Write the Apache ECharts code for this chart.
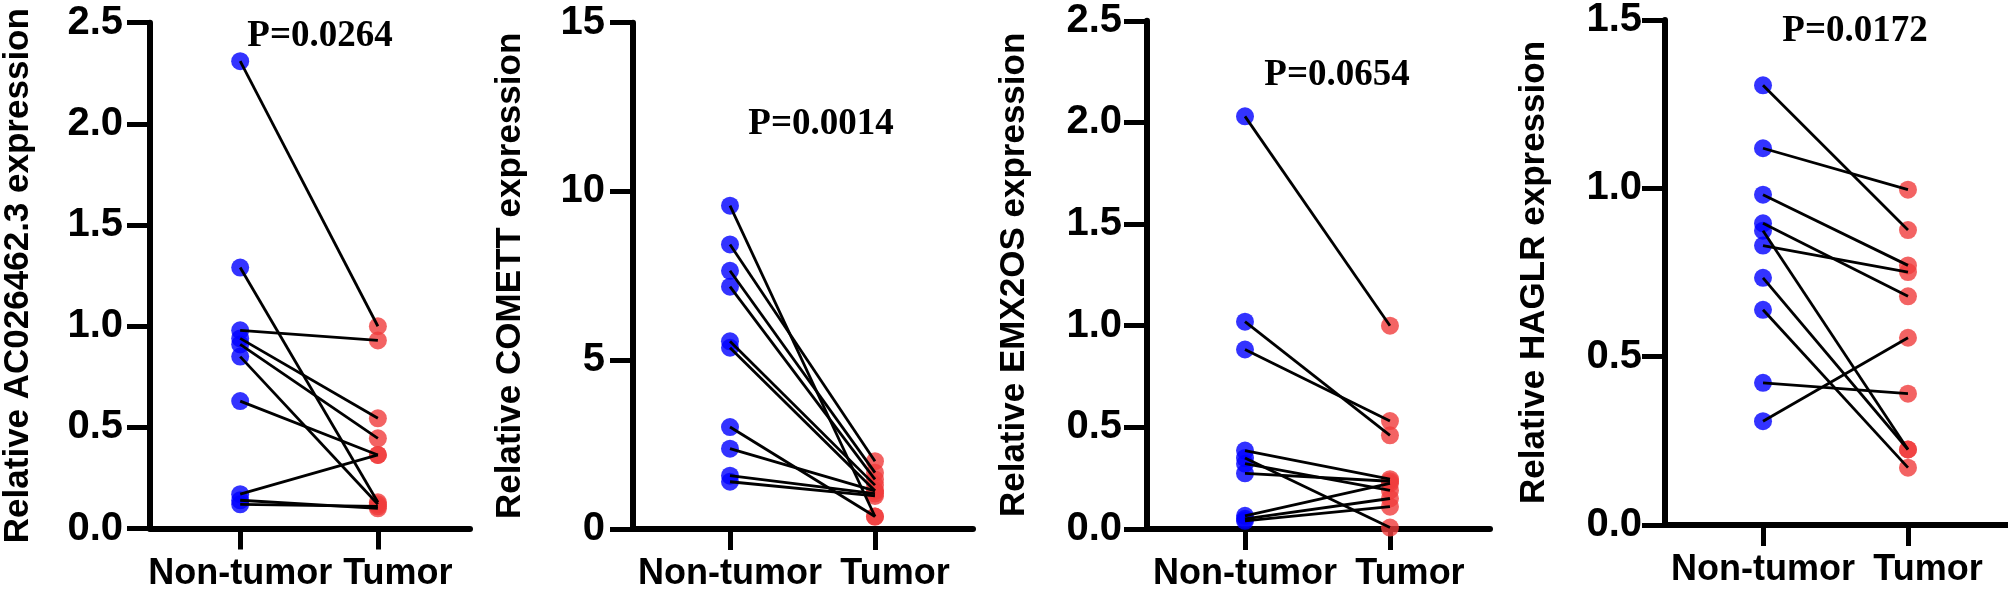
<!DOCTYPE html>
<html><head><meta charset="utf-8">
<script src="https://cdn.jsdelivr.net/npm/echarts@6/dist/echarts.min.js"></script>
<style>html,body{margin:0;padding:0;background:#fff}#c{width:2008px;height:592px}</style>
</head><body><div id="c"></div>
<script>
// ---- data ----
const groups = ['Non-tumor', 'Tumor'];
const genes = ['AC026462.3', 'COMETT', 'EMX2OS', 'HAGLR'];
const pValues = ['P=0.0264', 'P=0.0014', 'P=0.0654', 'P=0.0172'];
const yMax = [2.5, 15, 2.5, 1.5];
const yStep = [0.5, 5, 0.5, 0.5];
const yDecimals = [1, 0, 1, 1];

const acNonTumor = [2.31, 1.29, 0.98, 0.94, 0.91, 0.85, 0.63, 0.17, 0.14, 0.12];
const acTumor    = [1.00, 0.13, 0.93, 0.545, 0.446, 0.12, 0.364, 0.364, 0.10, 0.11];

const comettNonTumor = [9.58, 8.43, 7.65, 7.18, 5.56, 5.37, 3.02, 2.38, 1.58, 1.40];
const comettTumor    = [0.37, 2.01, 1.67, 1.47, 1.30, 1.13, 0.37, 1.13, 1.05, 0.98];

const emxNonTumor = [2.03, 1.02, 0.883, 0.386, 0.349, 0.321, 0.274, 0.065, 0.050, 0.040];
const emxTumor    = [1.00, 0.461, 0.531, 0.245, 0.007, 0.19, 0.235, 0.225, 0.15, 0.11];

const haglrNonTumor = [1.306, 1.119, 0.981, 0.896, 0.874, 0.830, 0.734, 0.639, 0.422, 0.308];
const haglrTumor    = [0.876, 0.996, 0.771, 0.679, 0.224, 0.751, 0.224, 0.170, 0.390, 0.556];

const panelData = [
  [acNonTumor, acTumor],
  [comettNonTumor, comettTumor],
  [emxNonTumor, emxTumor],
  [haglrNonTumor, haglrTumor]
];

// ---- layout (positions / sizes only) ----
const layout = [
  {left: 133,  top: 22.7, zero: 528.6, width: 337, xMin: 0.345, xMax: 2.669, nameGap: 114, labMargin: 27, px: 320,  py: 36},
  {left: 633,  top: 22.7, zero: 529.8, width: 340, xMin: 0.331, xMax: 2.676, nameGap: 105, labMargin: 28, px: 821,  py: 124},
  {left: 1147, top: 20.8, zero: 529.8, width: 343, xMin: 0.324, xMax: 2.690, nameGap: 115, labMargin: 25, px: 1337, py: 75},
  {left: 1665, top: 18.9, zero: 524.9, width: 342, xMin: 0.324, xMax: 2.683, nameGap: 113, labMargin: 23, px: 1855, py: 31}
];

const SANS = '"Liberation Sans", Arial, Helvetica, sans-serif';
const SERIF = '"Liberation Serif", "Times New Roman", serif';
const BLUE = '#0000ff';
const RED = '#f03c3c';

const grids = [], xAxes = [], yAxes = [], series = [], graphics = [];

layout.forEach((L, i) => {
  grids.push({left: L.left, top: L.top, width: L.width, height: L.zero - L.top, containLabel: false});
  const labelFont = {fontSize: 36, fontWeight: 'bold', fontFamily: SANS, color: '#000'};
  xAxes.push({
    type: 'value', gridIndex: i, min: L.xMin, max: L.xMax,
    axisLine: {show: true, onZero: false, lineStyle: {color: '#000', width: 6}},
    axisTick: {show: true, customValues: [1, 2], length: 21, lineStyle: {color: '#000', width: 5}},
    axisLabel: {
      show: true, customValues: [1, 2], margin: 27,
      formatter: v => (Math.round(v) === 2 ? '{t|' + groups[1] + '}' : '{n|' + groups[0] + '}'),
      rich: {
        n: Object.assign({}, labelFont),
        t: Object.assign({padding: [0, 0, 0, 40]}, labelFont)
      }
    },
    splitLine: {show: false}
  });
  yAxes.push({
    type: 'value', gridIndex: i, min: 0, max: yMax[i], interval: yStep[i],
    name: 'Relative ' + genes[i] + ' expression',
    nameLocation: 'middle', nameGap: L.nameGap, nameRotate: 90,
    nameTextStyle: {fontSize: 35, fontWeight: 'bold', fontFamily: SANS, color: '#000'},
    axisLine: {show: true, lineStyle: {color: '#000', width: 6}},
    axisTick: {show: true, length: 23, lineStyle: {color: '#000', width: 5}},
    axisLabel: {
      margin: L.labMargin, fontSize: 40, fontWeight: 'bold', fontFamily: SANS, color: '#000',
      formatter: v => v.toFixed(yDecimals[i])
    },
    splitLine: {show: false}
  });

  const [nt, t] = panelData[i];
  series.push({
    type: 'scatter', xAxisIndex: i, yAxisIndex: i, z: 2,
    symbol: 'circle', symbolSize: 18, itemStyle: {color: BLUE},
    data: nt.map(v => [1, v])
  });
  series.push({
    type: 'scatter', xAxisIndex: i, yAxisIndex: i, z: 2,
    symbol: 'circle', symbolSize: 18, itemStyle: {color: RED},
    data: t.map(v => [2, v])
  });
  nt.forEach((v, k) => {
    series.push({
      type: 'line', xAxisIndex: i, yAxisIndex: i, z: 3,
      symbol: 'none', silent: true,
      lineStyle: {color: '#000', width: 2.8},
      data: [[1, v], [2, t[k]]]
    });
  });

  graphics.push({
    type: 'text', x: L.px, y: L.py, z: 10,
    style: {
      text: pValues[i], fill: '#000',
      font: 'bold 37px ' + SERIF,
      textAlign: 'center', textVerticalAlign: 'middle',
      align: 'center', verticalAlign: 'middle'
    }
  });
});

const chart = echarts.init(document.getElementById('c'), null, {renderer: 'canvas'});
chart.setOption({
  animation: false,
  backgroundColor: '#fff',
  grid: grids, xAxis: xAxes, yAxis: yAxes, series: series,
  graphic: graphics
});
</script>
</body></html>
